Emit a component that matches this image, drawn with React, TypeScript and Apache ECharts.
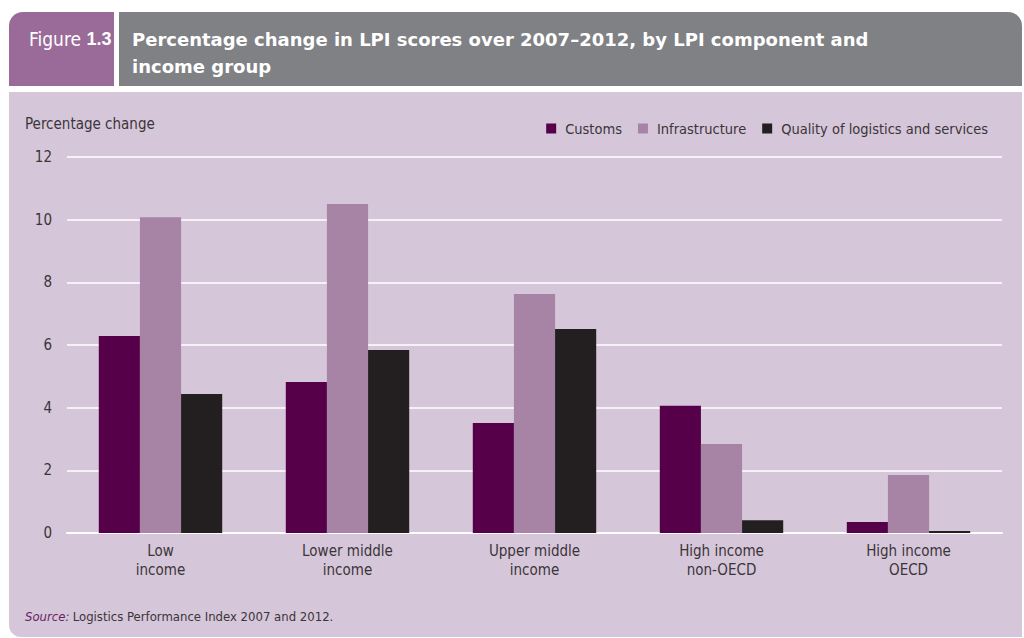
import React, { useEffect, useRef } from "react";
import * as echarts from "echarts";

const categories = ["Low\nincome", "Lower middle\nincome", "Upper middle\nincome", "High income\nnon-OECD", "High income\nOECD"];
const customs = [6.29, 4.82, 3.51, 4.06, 0.35];
const infrastructure = [10.08, 10.5, 7.63, 2.84, 1.85];
const quality = [4.44, 5.84, 6.51, 0.41, 0.06];
const seriesNames = ["Customs", "Infrastructure", "Quality of logistics and services"];
const seriesColors = ["#56004a", "#a784a6", "#231f20"];

const FONT = "'Liberation Sans Narrow', 'DejaVu Sans Condensed', 'Roboto', sans-serif";
const TITLE_FONT = "'DejaVu Sans', 'Liberation Sans', Arial, sans-serif";

export default function App() {
  const ref = useRef<HTMLDivElement>(null);
  useEffect(() => {
    if (!ref.current) return;
    const chart = echarts.init(ref.current, undefined, { renderer: "svg" });
    const data = [customs, infrastructure, quality];
    chart.setOption({
      animation: false,
      backgroundColor: "#ffffff",
      graphic: [
        { type: "rect", z: -10, shape: { x: 9, y: 92, width: 1013, height: 545, r: [0, 0, 0, 12] }, style: { fill: "#d6c6da" } },
        { type: "rect", z: -10, shape: { x: 9, y: 12, width: 105, height: 74, r: [14, 0, 0, 0] }, style: { fill: "#9a6b98" } },
        { type: "rect", z: -10, shape: { x: 119, y: 12, width: 903, height: 74, r: [0, 14, 0, 0] }, style: { fill: "#808185" } },
        {
          type: "text", x: 29, y: 29,
          style: {
            text: "{a|Figure }{b|1.3}",
            rich: {
              a: { fontFamily: FONT, fontSize: 19, fill: "#ffffff" },
              b: { fontFamily: "'Liberation Sans', Arial, sans-serif", fontSize: 18, fontWeight: "bold", fill: "#ffffff" },
            },
          },
        },
        {
          type: "text", x: 132, y: 26,
          style: {
            text: "Percentage change in LPI scores over 2007–2012, by LPI component and\nincome group",
            fontFamily: TITLE_FONT, fontSize: 18, fontWeight: "bold", fill: "#ffffff", lineHeight: 27,
          },
        },
        {
          type: "text", x: 25, y: 116,
          style: { text: "Percentage change", fontFamily: FONT, fontSize: 15, fill: "#3a3538" },
        },
        {
          type: "text", x: 25, y: 610,
          style: {
            text: "{i|Source:} {n|Logistics Performance Index 2007 and 2012.}",
            rich: {
              i: { fontFamily: FONT, fontSize: 13, fontStyle: "italic", fill: "#6a1f63" },
              n: { fontFamily: FONT, fontSize: 13, fill: "#3a3538" },
            },
          },
        },
      ],
      legend: {
        right: 31, top: 116, itemWidth: 10, itemHeight: 10, itemGap: 16, icon: "rect",
        textStyle: { fontFamily: FONT, fontSize: 14.5, color: "#3a3538", padding: [0, 0, 0, 4] },
        data: seriesNames,
      },
      grid: { left: 67, right: 22, top: 157, bottom: 105 },
      xAxis: {
        type: "category", data: categories,
        axisLine: { lineStyle: { color: "#ffffff", width: 2 } },
        axisTick: { show: false },
        axisLabel: { fontFamily: FONT, fontSize: 15, color: "#3a3538", lineHeight: 19, margin: 8 },
      },
      yAxis: {
        type: "value", min: 0, max: 12, interval: 2,
        axisLine: { show: false }, axisTick: { show: false },
        splitLine: { lineStyle: { color: "#ffffff", width: 1.5 } },
        axisLabel: { fontFamily: FONT, fontSize: 15, color: "#3a3538", margin: 15 },
      },
      series: seriesNames.map((name, i) => ({
        name, type: "bar", data: data[i], barGap: "0%", barCategoryGap: "34%",
        itemStyle: { color: seriesColors[i] },
      })),
    });
    return () => chart.dispose();
  }, []);
  return <div ref={ref} style={{ position: "fixed", left: 0, top: 0, width: 1024, height: 638 }} />;
}
